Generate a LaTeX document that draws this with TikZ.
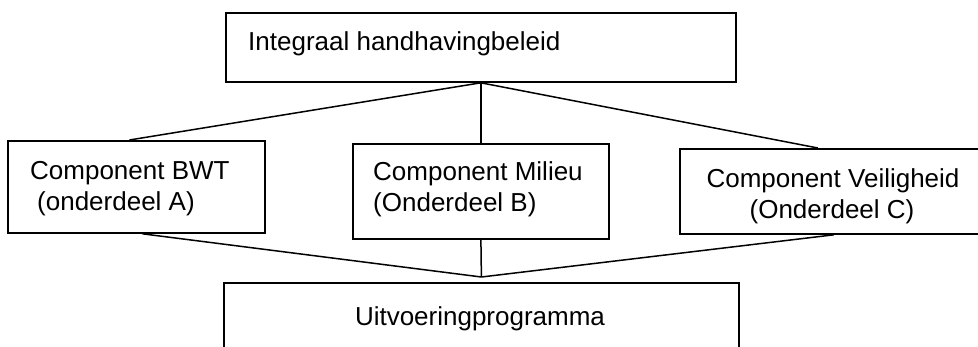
\documentclass[tikz,border=0pt]{standalone}
\usepackage{fontspec}
\setmainfont{Liberation Sans}
\begin{document}
\begin{tikzpicture}[x=1pt,y=-1pt,
  box/.style={draw,line width=1.8pt,rectangle,inner sep=0pt,anchor=north west},
  conn/.style={line width=1.5pt},
  txt/.style={inner sep=0pt,font=\fontsize{26}{31}\selectfont}]
\useasboundingbox (0,0) rectangle (978,346);
\clip (0,0) rectangle (978,346);
% boxes
\node[box,minimum width=510pt,minimum height=69pt] (t) at (225,12) {};
\node[box,minimum width=257pt,minimum height=92pt] (a) at (7,140) {};
\node[box,minimum width=256pt,minimum height=95pt] (b) at (352,143) {};
\node[box,minimum width=308pt,minimum height=85pt] (c) at (679,148) {};
\node[box,minimum width=515pt,minimum height=100pt] (u) at (223,282) {};
% texts
\node[txt,anchor=base west] (tt) at (248,50) {Integraal handhavingbeleid};
\node[txt,anchor=base west] (a1) at (30,179) {Component BWT};
\node[txt,anchor=base west] (a2) at (37,210) {(onderdeel A)};
\node[txt,anchor=base west] (b1) at (373,180) {Component Milieu};
\node[txt,anchor=base west] (b2) at (373,211) {(Onderdeel B)};
\node[txt,anchor=base] (c1) at (833,187) {Component Veiligheid};
\node[txt,anchor=base] (c2) at (832,218) {(Onderdeel C)};
\node[txt,anchor=base] (u1) at (480,325) {Uitvoeringprogramma};
% connectors
\coordinate (m) at ([yshift=5pt]u.north);
\draw[conn] (t.south) -- ([xshift=-7pt]a.north);
\draw[conn] (t.south) -- (b.north);
\draw[conn] (t.south) -- ([xshift=-16pt]c.north);
\draw[conn] ([xshift=6pt]a.south) -- (m);
\draw[conn] (b.south) -- (m);
\draw[conn] (c.south) -- (m);
\end{tikzpicture}
\end{document}
